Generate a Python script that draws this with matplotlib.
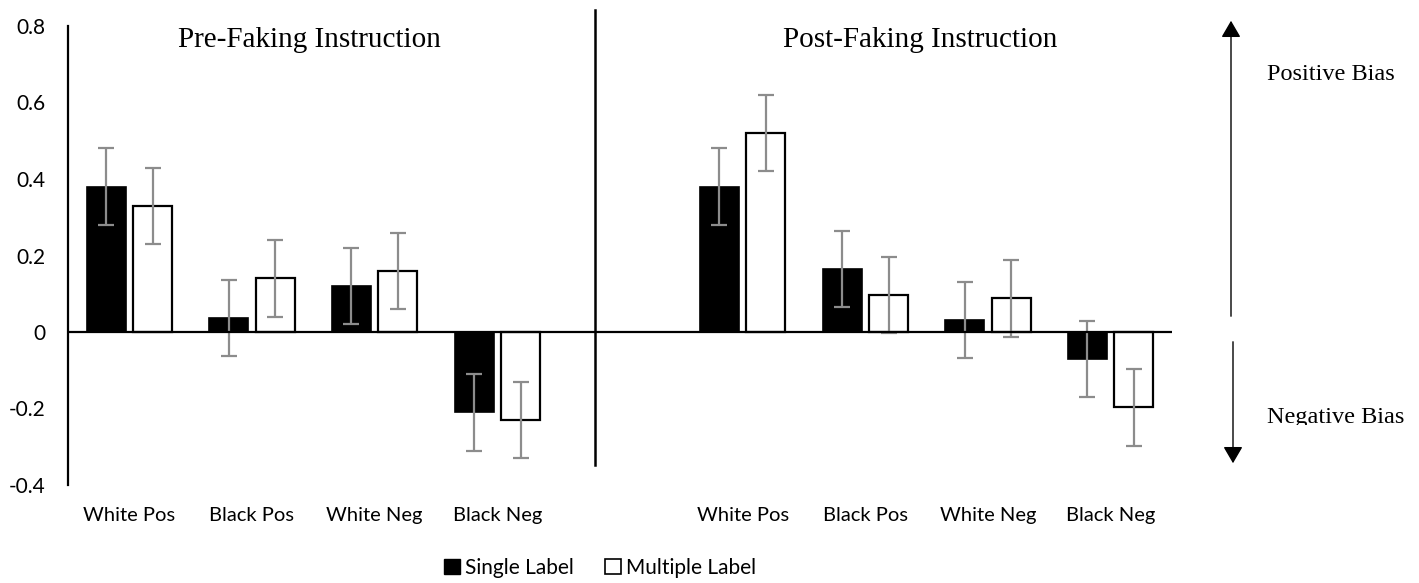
import matplotlib
matplotlib.use("Agg")
import matplotlib.pyplot as plt
from matplotlib.patches import Patch, FancyArrowPatch
from matplotlib.transforms import Bbox
import numpy as np

# ---- data ----
categories = ["White Pos", "Black Pos", "White Neg", "Black Neg"]
phases = ["Pre-Faking Instruction", "Post-Faking Instruction"]
series_names = ["Single Label", "Multiple Label"]

pre_single = [0.38, 0.037, 0.12, -0.21]
pre_multiple = [0.33, 0.14, 0.16, -0.23]
post_single = [0.38, 0.165, 0.032, -0.07]
post_multiple = [0.52, 0.097, 0.088, -0.197]
err_value = 0.1

yticks = [-0.4, -0.2, 0, 0.2, 0.4, 0.6, 0.8]
ytick_labels = ["-0.4", "-0.2", "0", "0.2", "0.4", "0.6", "0.8"]

# ---- figure ----
W, H = 1419, 583
fig = plt.figure(figsize=(W / 100, H / 100), dpi=100)
ax_left, ax_right, ax_top, ax_bot = 68, 1172, 26, 485
ax = fig.add_axes([ax_left / W, 1 - ax_bot / H, (ax_right - ax_left) / W, (ax_bot - ax_top) / H])

slots_pre = np.arange(4)
slots_post = np.arange(5, 9)
bw = 0.318
off = 0.19
ecol = "#8c8c8c"

for slots, s_vals, m_vals in [(slots_pre, pre_single, pre_multiple),
                              (slots_post, post_single, post_multiple)]:
    ax.bar(slots - off, s_vals, width=bw, color="black", edgecolor="black", linewidth=1.2, zorder=2)
    ax.bar(slots + off, m_vals, width=bw, color="white", edgecolor="black", linewidth=1.6, zorder=2)
    ax.errorbar(slots - off, s_vals, yerr=err_value, fmt="none", ecolor=ecol,
                elinewidth=1.6, capsize=5.5, capthick=1.6, zorder=3)
    ax.errorbar(slots + off, m_vals, yerr=err_value, fmt="none", ecolor=ecol,
                elinewidth=1.6, capsize=5.5, capthick=1.6, zorder=3)

ax.set_xlim(-0.5, 8.5)
ax.set_ylim(-0.4, 0.8)
ax.axhline(0, color="black", lw=1.6, zorder=4)

for side in ["top", "right", "bottom"]:
    ax.spines[side].set_visible(False)
ax.spines["left"].set_linewidth(1.6)
ax.set_xticks([])
ax.set_yticks(yticks)
ax.set_yticklabels(ytick_labels, fontsize=15, family="Lato")
ax.tick_params(axis="y", length=0, pad=16)

# divider
ax.plot([3.8, 3.8], [0.843, -0.348], color="black", lw=1.8, clip_on=False, zorder=4)

# category labels
for slots in (slots_pre, slots_post):
    for x, lab in zip(slots, categories):
        ax.text(x, -0.48, lab, ha="center", va="center", fontsize=14.5, family="Lato",
                clip_on=False)

# panel titles
ax.text(1.47, 0.745, phases[0], ha="center", va="baseline", fontsize=21,
        family="Liberation Serif")
ax.text(6.45, 0.745, phases[1], ha="center", va="baseline", fontsize=21,
        family="Liberation Serif")

# arrows (figure pixel coords)
def fx(px):
    return px / W

def fy(py):
    return 1 - py / H

for (x0, y0, y1) in [(1231, 319, 18), (1233, 339, 466)]:
    fig.add_artist(FancyArrowPatch((fx(x0), fy(y0)), (fx(x0), fy(y1)),
                   transform=fig.transFigure, arrowstyle="-|>,head_length=6,head_width=3.5",
                   color="black", lw=1.0, mutation_scale=1.7))

fig.text(fx(1267), fy(80), "Positive Bias", ha="left", va="baseline", fontsize=17.5,
         family="Liberation Serif")
t = fig.text(fx(1267), fy(423), "Negative Bias", ha="left", va="baseline", fontsize=17.5,
             family="Liberation Serif")
t.set_clip_box(Bbox([[1150, H - 425], [W, H]]))
t.set_clip_on(True)

# legend
handles = [Patch(facecolor="black", edgecolor="black", label=series_names[0]),
           Patch(facecolor="white", edgecolor="black", linewidth=1.2, label=series_names[1])]
fig.legend(handles=handles, loc="center", bbox_to_anchor=(fx(600), fy(568)), ncol=2,
           frameon=False, handlelength=0.75, handleheight=0.75, handletextpad=0.25,
           columnspacing=1.5, prop={"family": "Lato", "size": 15})

fig.savefig("out.png", dpi=100, facecolor="white")
